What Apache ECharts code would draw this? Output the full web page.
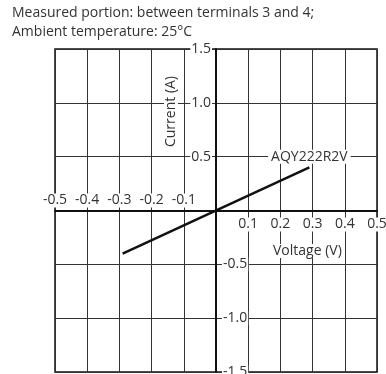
<!DOCTYPE html>
<html>
<head>
<meta charset="utf-8">
<style>
html,body{margin:0;padding:0;background:#fff;}
#chart{width:386px;height:374px;}
</style>
<script src="https://cdn.jsdelivr.net/npm/echarts@6/dist/echarts.min.js"></script>
</head>
<body>
<div id="chart"></div>
<script>
// data
var voltage = [-0.29, 0.29];
var current = [-0.40, 0.40];
var seriesName = 'AQY222R2V';
var titleLines = ['Measured portion: between terminals 3 and 4;', 'Ambient temperature: 25°C'];

var FONT = '"Open Sans", "DejaVu Sans", sans-serif';
var TXT = '#333';
// grid box: 322 x 323, origin in the middle
var GL = 55, GR = 9, GT = 49, GB = 2;
var HALF_W = -161, HALF_H = -161.5;

function fmt(v) { return (Math.round(v * 10) / 10).toFixed(1); }

var lbl = {fontFamily: FONT, fontSize: 14, color: TXT, backgroundColor: '#fff', padding: [0, 1]};
var axLine = {show: true, onZero: false, lineStyle: {color: '#111', width: 2}};

var chart = echarts.init(document.getElementById('chart'));
var option = {
    animation: false,
    title: {
        text: titleLines.join('\n'),
        left: 12, top: 4, padding: 0,
        textStyle: {fontFamily: FONT, fontSize: 14, fontWeight: 'normal', color: TXT, lineHeight: 19}
    },
    grid: {
        left: GL, right: GR, top: GT, bottom: GB,
        outerBoundsMode: 'none', containLabel: false,
        show: true, borderColor: '#111', borderWidth: 1.5, backgroundColor: '#fff'
    },
    xAxis: [{
        // positive labels, below the zero line
        type: 'value', min: -0.5, max: 0.5, interval: 0.1, position: 'bottom', offset: HALF_H,
        axisLine: axLine,
        axisTick: {show: false},
        splitLine: {show: true, lineStyle: {color: '#333', width: 1}},
        axisLabel: Object.assign({margin: 7, showMaxLabel: true, formatter: function (v) { return v > 0.001 ? fmt(v) : ''; }}, lbl)
    }, {
        // negative labels, above the zero line
        type: 'value', min: -0.5, max: 0.5, interval: 0.1, position: 'top', offset: HALF_H,
        axisLine: {show: false},
        axisTick: {show: false},
        splitLine: {show: false},
        axisLabel: Object.assign({margin: 3, showMinLabel: true, formatter: function (v) { return v < -0.001 ? fmt(v) : ''; }}, lbl)
    }],
    yAxis: [{
        // positive labels, left of the zero line
        type: 'value', min: -1.5, max: 1.5, interval: 0.5, position: 'left', offset: HALF_W,
        axisLine: axLine,
        axisTick: {show: false},
        splitLine: {show: true, lineStyle: {color: '#333', width: 1}},
        axisLabel: Object.assign({margin: 4, showMaxLabel: true, formatter: function (v) { return v > 0.001 ? fmt(v) : ''; }}, lbl)
    }, {
        // negative labels, right of the zero line
        type: 'value', min: -1.5, max: 1.5, interval: 0.5, position: 'right', offset: HALF_W,
        axisLine: {show: false},
        axisTick: {show: false},
        splitLine: {show: false},
        axisLabel: Object.assign({margin: 6, showMinLabel: true, formatter: function (v) { return v < -0.001 ? fmt(v) : ''; }}, lbl)
    }],
    graphic: [{
        type: 'text', left: 164, top: 74, rotation: Math.PI / 2, z: 100,
        style: {text: 'Current (A)', font: '14px ' + FONT, fill: TXT, backgroundColor: '#fff', padding: [0, 2]}
    }, {
        type: 'text', left: 271, top: 244, z: 100,
        style: {text: 'Voltage (V)', font: '14px ' + FONT, fill: TXT, backgroundColor: '#fff', padding: [0, 2]}
    }],
    series: [{
        name: seriesName,
        type: 'line',
        xAxisIndex: 0, yAxisIndex: 0,
        data: voltage.map(function (v, i) { return [v, current[i]]; }),
        symbol: 'none',
        lineStyle: {color: '#111', width: 2.5},
        markPoint: {
            symbol: 'circle', symbolSize: 0,
            data: [{coord: [0.29, 0.5]}],
            label: Object.assign({show: true, position: 'inside', formatter: seriesName}, lbl, {padding: [0, 3]})
        }
    }]
};
chart.setOption(option);
</script>
</body>
</html>
